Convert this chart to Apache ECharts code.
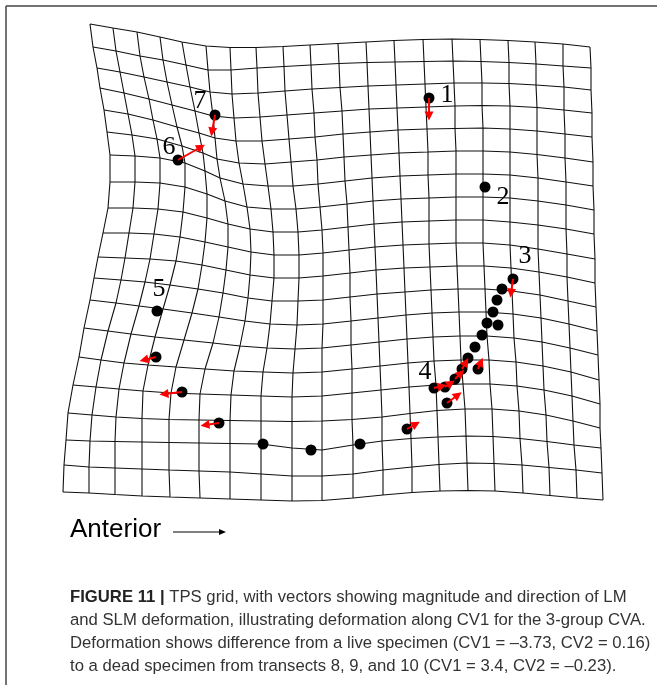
<!DOCTYPE html>
<html><head><meta charset="utf-8">
<script src="https://cdn.jsdelivr.net/npm/echarts@6/dist/echarts.min.js"></script>
<style>html,body{margin:0;padding:0;background:#fff}#c{width:657px;height:685px}</style>
</head><body><div id="c"></div>
<script>
// Vertical grid lines: x position of line j at each of the 20 horizontal lines (top to bottom)
const colX = [
 [90,93,97,100,104,107,110,110,108,103,98,94,90,84,79,73,68,66,64,63],
 [113,116,120,124,128,132,135,135,133,129,125,121,116,108,101,96,92,90,89,89],
 [137,140,144,149,153,157,160,160,158,154,150,145,139,131,124,119,116,115,115,115],
 [160,163,167,172,177,182,185,185,183,180,176,170,163,155,148,143,142,142,142,142],
 [182,186,190,195,199,203,205,207,207,205,202,198,192,184,176,171,169,169,169,170],
 [206,208,210,213,215,217,220,225,228,228,226,223,219,213,205,200,199,199,199,200],
 [230,231,232,234,236,239,243,247,250,251,250,248,245,240,234,231,230,230,230,230],
 [256,257,258,260,262,265,268,271,273,274,274,272,270,267,263,261,261,261,261,261],
 [283,284,285,287,289,291,293,296,298,299,299,298,297,295,293,292,292,292,292,292],
 [310,311,312,314,315,317,318,320,322,323,323,323,323,322,322,322,322,322,322,322],
 [338,339,340,342,343,344,345,347,348,349,350,350,351,351,352,352,352,353,353,353],
 [366,367,368,369,370,371,372,373,374,375,376,377,378,379,380,381,382,382,383,383],
 [394,395,396,397,398,399,400,401,402,403,404,405,406,407,408,409,410,411,412,412],
 [423,424,425,426,427,428,428,429,429,429,430,431,432,433,434,436,437,438,439,440],
 [452,453,454,455,455,456,456,456,456,456,457,458,459,460,461,463,465,466,467,468],
 [480,481,482,482,483,483,483,483,483,483,484,485,486,487,489,490,492,493,494,495],
 [508,509,509,510,510,510,510,510,510,510,511,512,513,514,516,517,519,520,522,523],
 [535,536,536,537,537,537,538,538,538,538,539,540,541,542,543,544,546,547,549,550],
 [563,563,564,564,565,565,566,566,566,567,567,568,569,570,571,572,573,574,576,577],
 [590,591,591,592,592,593,593,594,594,595,595,596,597,598,599,600,600,601,602,603]
];
// Horizontal grid lines: y position of line i at each of the 20 vertical lines (left to right)
const rowY = [
 [24,28,32,37,42,46,47.5,47.5,46.5,45,43.5,42,40.5,39.5,39,39.5,40.5,42,44,47],
 [47,51,56,60,65,70,70,68,66.5,65,63.5,62.5,62,61.5,61,61.5,62.5,64,66,68],
 [68,72,77,82,87,92,94,93,91,89,87.5,86,85,84,83,83,83.5,85,87,90],
 [88,93,99,105,111,116,118,117,115,113,111,109,108,107,106,105.5,106,107.5,110,113],
 [110,114,120,127,133,138,141,141,139,137,134,132,130,129,128.5,128,129,131,134,137],
 [132,135,139,146,153,159,163,164,162,160,157,155,153,152,151,151,152,154.5,158,162],
 [155,156,158,163,171,178,184,186,186,184,181,178,176,175,174,174,175,178,182,186],
 [182,182,183,187,194,201,207,209,209,207,204,201,199,198,197,197,198,201,205,210],
 [208,208,209,212,218,224,229,232,232,230,227,224,222,221,220,220,222,225,229,234],
 [233,233,234,237,242,247,252,255,255,253,250,247,245,244,243,243,245,249,254,259],
 [257,258,259,261,265,270,275,278,278,276,273,270,268,267,266,266,268,272,277,283],
 [278,280,282,285,289,293,298,301,301,300,297,294,292,290,289,289,291,295,301,307],
 [300,303,306,309,313,317,321,324,325,324,321,318,315,313,312,312,314,318,324,331],
 [328,331,334,337,340,343,346,348,349,348,345,342,339,337,336,336,338,342,348,355],
 [357,360,363,365,367,369,371,372,373,372,369,366,363,361,360,360,362,366,372,380],
 [385,387,389,391,393,394,395,396,397,396,393,390,387,385,384,384,386,390,396,404],
 [413,415,417,418.5,419.5,420,420.5,421,421.5,421,419.5,417,413.5,410.5,409,409,411,415,421,428],
 [440,441,441.5,442,442.5,443,443.5,444,448,450,445,441,438.5,437,436,436.5,438.5,441.5,445,448],
 [465,467,468,469,470,471,472,474,476,476,474,470,467,464.5,463,463.5,465,467.5,470,473],
 [492,493,494.5,496,497,498,499,500,501,500.5,498,495,492.5,491,490.5,491,493,495.5,498,500]
];
// Landmarks and semilandmarks (target configuration)
const landmarkX = [429,485,513,502,497,493,487,498,482,475,468,462,478,455,445,434,447,407,360,311,263,219,182,156,157,178,215];
const landmarkY = [98,187,279,289,300,312,323,325,335,347,358,369,369,379,387,388,403,429,444,450,444,423,392,357,311,160,115];
// Deformation vectors: start point and displacement
const vecX  = [429,215,178,513,156,182,219,407,447,434,445,455,462,478];
const vecY  = [98,115,160,279,357,392,423,429,403,388,387,379,369,369];
const vecDX = [0,-3,23,-2,-12,-18,-14,9,11,8,6,6,4,3];
const vecDY = [18,17,-13,14,3,2,2,-5,-8,-2,-4,-6,-7,-7];
// Landmark numbers
const lmNames = ['1','2','3','4','5','6','7'];
const lmNameX = [447,503,525,425,159,169,200];
const lmNameY = [95,197,256,372,289,147,101];

const series = [];
for (let i = 0; i < rowY.length; i++) {
  series.push({type:'line', silent:true, symbol:'none', animation:false, z:1,
    lineStyle:{color:'#111', width:1.1},
    data: rowY[i].map((y, j) => [colX[j][i], y])});
}
for (let j = 0; j < colX.length; j++) {
  series.push({type:'line', silent:true, symbol:'none', animation:false, z:1,
    lineStyle:{color:'#111', width:1.1},
    data: colX[j].map((x, i) => [x, rowY[i][j]])});
}
series.push({type:'scatter', silent:true, animation:false, z:3, symbolSize:11,
  itemStyle:{color:'#000', opacity:1},
  data: landmarkX.map((x, k) => [x, landmarkY[k]])});
series.push({type:'lines', coordinateSystem:'cartesian2d', silent:true, animation:false, z:4,
  symbol:['none','triangle'], symbolSize:9,
  lineStyle:{color:'#ff0000', width:2, opacity:1},
  data: vecX.map((x, k) => ({coords:[[x, vecY[k]], [x + vecDX[k], vecY[k] + vecDY[k]]]}))});
series.push({type:'scatter', silent:true, animation:false, z:5, symbolSize:1,
  itemStyle:{color:'rgba(0,0,0,0)', opacity:1},
  label:{show:true, position:'inside', formatter:p => p.data[2],
    fontFamily:'Liberation Serif', fontSize:26, color:'#000', opacity:1,
    textBorderWidth:0},
  data: lmNames.map((n, k) => [lmNameX[k], lmNameY[k], n])});

const chart = echarts.init(document.getElementById('c'), null, {renderer:'canvas'});
const capFont = '"Liberation Sans", Arial, sans-serif';
const capSize = 16.7;
chart.setOption({
  animation:false,
  backgroundColor:'#fff',
  grid:{left:0, right:0, top:0, bottom:0},
  xAxis:{type:'value', min:0, max:657, show:false},
  yAxis:{type:'value', min:0, max:685, inverse:true, show:false},
  series: series,
  graphic:[
    {type:'line', shape:{x1:6, y1:6, x2:657, y2:6}, style:{stroke:'#444', lineWidth:1.5}},
    {type:'line', shape:{x1:6, y1:6, x2:6, y2:685}, style:{stroke:'#444', lineWidth:1.5}},
    {type:'text', left:70, top:517, style:{text:'Anterior', font:'26px ' + capFont, fill:'#000'}},
    {type:'line', shape:{x1:173, y1:532, x2:222, y2:532}, style:{stroke:'#000', lineWidth:1}},
    {type:'polygon', shape:{points:[[226,532],[219,529],[219,535]]}, style:{fill:'#000'}},
    {type:'text', left:70, top:589, style:{
      text:'{b|FIGURE 11 |} TPS grid, with vectors showing magnitude and direction of LM',
      font:capSize + 'px ' + capFont, fill:'#333',
      rich:{b:{fontWeight:'bold', fontSize:capSize, fontFamily:capFont, fill:'#222'}}}},
    {type:'text', left:70, top:612, style:{text:'and SLM deformation, illustrating deformation along CV1 for the 3-group CVA.', font:capSize + 'px ' + capFont, fill:'#333'}},
    {type:'text', left:70, top:635, style:{text:'Deformation shows difference from a live specimen (CV1 = \u20133.73, CV2 = 0.16)', font:capSize + 'px ' + capFont, fill:'#333'}},
    {type:'text', left:70, top:658, style:{text:'to a dead specimen from transects 8, 9, and 10 (CV1 = 3.4, CV2 = \u20130.23).', font:capSize + 'px ' + capFont, fill:'#333'}}
  ]
});
</script></body></html>
